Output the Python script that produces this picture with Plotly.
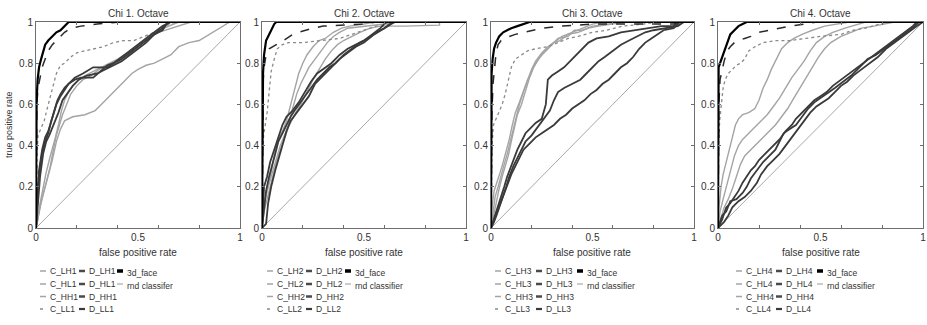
import plotly.graph_objects as go

# ---------------- data: ROC curves (fpr, tpr) ----------------
PANEL_TITLES = ["Chi 1. Octave", "Chi 2. Octave", "Chi 3. Octave", "Chi 4. Octave"]
Y_TICKS = [0, 0.2, 0.4, 0.6, 0.8, 1]
Y_TICK_TEXT = ["0", "0.2", "0.4", "0.6", "0.8", "1"]
X_TICKS = [0, 0.5, 1]
X_TICK_TEXT = ["0", "0.5", "1"]
X_MINOR_TICKS = [0.2, 0.4, 0.6, 0.8]
RND_LABELS = ["rnd classifer", "rnd classifier", "rnd classifier", "rnd classifier"]

RND = [(0, 0), (1, 1)]

# ---- panel 1
FACE_1 = [(0,0),(0.003,0.62),(0.008,0.72),(0.015,0.78),(0.025,0.82),(0.035,0.86),(0.045,0.89),(0.06,0.91),(0.08,0.93),(0.1,0.95),(0.12,0.96),(0.14,0.98),(0.16,1),(1,1)]
D_LL1 = [(0,0),(0.004,0.6),(0.01,0.68),(0.02,0.74),(0.03,0.78),(0.045,0.82),(0.06,0.86),(0.08,0.89),(0.1,0.91),(0.12,0.93),(0.14,0.95),(0.17,0.97),(0.22,0.98),(0.3,0.99),(0.42,1),(1,1)]
C_LL1 = [(0,0),(0.005,0.36),(0.01,0.45),(0.025,0.49),(0.04,0.52),(0.055,0.58),(0.07,0.64),(0.085,0.7),(0.1,0.75),(0.12,0.79),(0.14,0.8),(0.17,0.83),(0.2,0.85),(0.24,0.86),(0.28,0.87),(0.33,0.88),(0.38,0.9),(0.43,0.91),(0.48,0.91),(0.53,0.93),(0.58,0.95),(0.63,0.98),(0.68,1),(1,1)]
D_LH1 = [(0,0),(0.005,0.1),(0.01,0.2),(0.02,0.3),(0.03,0.36),(0.045,0.42),(0.06,0.46),(0.075,0.52),(0.09,0.57),(0.105,0.62),(0.12,0.65),(0.14,0.68),(0.16,0.7),(0.19,0.72),(0.22,0.73),(0.28,0.73),(0.35,0.79),(0.38,0.8),(0.42,0.82),(0.46,0.85),(0.5,0.88),(0.54,0.91),(0.58,0.94),(0.62,0.97),(0.65,1),(1,1)]
D_HL1 = [(0,0),(0.008,0.15),(0.015,0.28),(0.03,0.38),(0.045,0.44),(0.06,0.47),(0.08,0.53),(0.1,0.6),(0.12,0.64),(0.14,0.67),(0.16,0.7),(0.19,0.73),(0.23,0.75),(0.28,0.78),(0.35,0.78),(0.38,0.8),(0.42,0.83),(0.46,0.86),(0.5,0.89),(0.54,0.92),(0.58,0.95),(0.62,0.98),(0.66,1),(1,1)]
D_HH1 = [(0,0),(0.01,0.12),(0.02,0.25),(0.035,0.36),(0.05,0.42),(0.065,0.45),(0.085,0.5),(0.11,0.56),(0.13,0.62),(0.15,0.65),(0.18,0.69),(0.21,0.72),(0.25,0.74),(0.3,0.75),(0.34,0.77),(0.38,0.79),(0.42,0.81),(0.46,0.84),(0.5,0.87),(0.54,0.9),(0.58,0.94),(0.62,0.96),(0.64,0.99),(0.66,1),(1,1)]
C_LH1 = [(0,0),(0.01,0.05),(0.02,0.12),(0.035,0.2),(0.05,0.27),(0.065,0.33),(0.08,0.38),(0.095,0.44),(0.11,0.5),(0.125,0.57),(0.14,0.62),(0.16,0.66),(0.18,0.69),(0.21,0.72),(0.24,0.74),(0.28,0.76),(0.32,0.78),(0.36,0.8),(0.4,0.82),(0.45,0.85),(0.5,0.89),(0.55,0.93),(0.6,0.96),(0.65,0.98),(0.7,1),(1,1)]
C_HL1 = [(0,0),(0.015,0.08),(0.03,0.15),(0.05,0.22),(0.07,0.3),(0.085,0.38),(0.1,0.45),(0.115,0.5),(0.13,0.55),(0.15,0.6),(0.17,0.65),(0.2,0.69),(0.23,0.72),(0.27,0.74),(0.31,0.77),(0.35,0.79),(0.4,0.81),(0.45,0.84),(0.5,0.88),(0.55,0.92),(0.6,0.95),(0.66,0.97),(0.72,0.99),(0.76,1),(1,1)]
C_HH1 = [(0,0),(0.02,0.1),(0.04,0.18),(0.06,0.25),(0.08,0.33),(0.1,0.42),(0.12,0.48),(0.14,0.52),(0.18,0.54),(0.24,0.55),(0.29,0.57),(0.32,0.6),(0.35,0.63),(0.38,0.66),(0.41,0.69),(0.44,0.72),(0.47,0.75),(0.5,0.77),(0.54,0.79),(0.58,0.8),(0.62,0.82),(0.66,0.84),(0.7,0.88),(0.75,0.9),(0.8,0.91),(0.85,0.94),(0.9,0.97),(0.95,1),(1,1)]

# ---- panel 2
FACE_2 = [(0,0),(0.002,0.6),(0.005,0.75),(0.01,0.84),(0.015,0.88),(0.02,0.91),(0.03,0.93),(0.04,0.95),(0.05,0.97),(0.06,0.99),(0.07,1),(1,1)]
D_LL2 = [(0,0),(0.003,0.6),(0.006,0.72),(0.01,0.78),(0.02,0.84),(0.035,0.87),(0.05,0.88),(0.07,0.89),(0.09,0.9),(0.12,0.92),(0.15,0.94),(0.18,0.95),(0.21,0.96),(0.25,0.97),(0.3,0.98),(0.38,0.985),(0.5,0.99),(0.56,1),(1,1)]
C_LL2 = [(0,0),(0.003,0.35),(0.008,0.45),(0.015,0.5),(0.025,0.56),(0.035,0.66),(0.045,0.76),(0.06,0.82),(0.075,0.87),(0.1,0.89),(0.13,0.9),(0.2,0.9),(0.3,0.91),(0.38,0.92),(0.44,0.94),(0.5,0.96),(0.56,0.98),(0.62,0.99),(0.66,1),(1,1)]
D_LH2 = [(0,0),(0.01,0.08),(0.02,0.18),(0.035,0.25),(0.05,0.3),(0.065,0.36),(0.08,0.42),(0.1,0.46),(0.12,0.5),(0.14,0.54),(0.16,0.57),(0.18,0.6),(0.21,0.64),(0.24,0.68),(0.27,0.72),(0.3,0.75),(0.33,0.78),(0.36,0.8),(0.4,0.84),(0.44,0.87),(0.48,0.9),(0.52,0.92),(0.56,0.95),(0.6,0.97),(0.64,1),(1,1)]
D_HL2 = [(0,0),(0.005,0.15),(0.01,0.2),(0.025,0.25),(0.04,0.32),(0.06,0.38),(0.08,0.44),(0.1,0.5),(0.12,0.54),(0.15,0.57),(0.18,0.61),(0.21,0.66),(0.24,0.71),(0.27,0.75),(0.3,0.77),(0.34,0.8),(0.38,0.84),(0.42,0.87),(0.46,0.89),(0.5,0.91),(0.54,0.94),(0.58,0.97),(0.61,1),(1,1)]
D_HH2 = [(0,0),(0.02,0.02),(0.03,0.12),(0.045,0.2),(0.065,0.28),(0.085,0.35),(0.1,0.4),(0.12,0.47),(0.14,0.52),(0.17,0.56),(0.2,0.6),(0.23,0.64),(0.26,0.7),(0.3,0.74),(0.34,0.78),(0.38,0.82),(0.42,0.85),(0.46,0.88),(0.5,0.9),(0.55,0.94),(0.6,0.97),(0.65,1),(1,1)]
C_LH2 = [(0,0),(0.01,0.1),(0.02,0.16),(0.035,0.22),(0.05,0.3),(0.065,0.38),(0.08,0.43),(0.1,0.47),(0.12,0.52),(0.14,0.6),(0.16,0.68),(0.18,0.75),(0.2,0.8),(0.22,0.84),(0.25,0.88),(0.28,0.91),(0.31,0.92),(0.35,0.95),(0.39,0.97),(0.43,0.98),(0.5,0.99),(0.55,1),(1,1)]
C_HL2 = [(0,0),(0.01,0.12),(0.03,0.2),(0.05,0.27),(0.07,0.34),(0.09,0.4),(0.11,0.45),(0.13,0.5),(0.15,0.58),(0.17,0.65),(0.19,0.7),(0.21,0.74),(0.23,0.78),(0.26,0.82),(0.29,0.86),(0.32,0.9),(0.35,0.93),(0.38,0.95),(0.42,0.97),(0.5,0.98),(0.6,0.99),(0.63,1),(1,1)]
C_HH2 = [(0,0),(0.01,0.08),(0.03,0.16),(0.05,0.24),(0.07,0.32),(0.09,0.38),(0.11,0.44),(0.13,0.49),(0.16,0.55),(0.19,0.6),(0.22,0.66),(0.25,0.72),(0.28,0.77),(0.31,0.82),(0.34,0.86),(0.37,0.89),(0.4,0.91),(0.44,0.93),(0.48,0.95),(0.53,0.97),(0.58,0.98),(0.7,0.98),(0.87,0.985),(0.87,1),(1,1)]

# ---- panel 3
FACE_3 = [(0,0),(0.003,0.75),(0.008,0.82),(0.015,0.87),(0.025,0.9),(0.04,0.93),(0.06,0.95),(0.08,0.96),(0.1,0.97),(0.13,0.98),(0.16,0.99),(0.19,1),(1,1)]
D_LL3 = [(0,0),(0.004,0.55),(0.01,0.7),(0.018,0.8),(0.025,0.85),(0.035,0.89),(0.05,0.91),(0.07,0.92),(0.09,0.93),(0.12,0.94),(0.16,0.95),(0.2,0.96),(0.25,0.97),(0.35,0.98),(0.5,0.99),(0.9,0.99),(0.92,1),(1,1)]
C_LL3 = [(0,0),(0.005,0.4),(0.012,0.5),(0.025,0.53),(0.04,0.56),(0.055,0.6),(0.07,0.65),(0.085,0.72),(0.1,0.78),(0.12,0.82),(0.15,0.84),(0.18,0.86),(0.22,0.87),(0.28,0.88),(0.33,0.9),(0.38,0.92),(0.43,0.93),(0.5,0.95),(0.57,0.96),(0.65,0.98),(0.75,0.99),(0.82,1),(1,1)]
C_LH3 = [(0,0),(0.01,0.08),(0.02,0.15),(0.035,0.2),(0.05,0.26),(0.065,0.31),(0.08,0.36),(0.095,0.42),(0.11,0.48),(0.125,0.55),(0.14,0.6),(0.16,0.66),(0.18,0.72),(0.2,0.77),(0.22,0.81),(0.25,0.85),(0.28,0.88),(0.31,0.9),(0.35,0.93),(0.4,0.95),(0.45,0.97),(0.5,0.99),(0.55,1),(1,1)]
C_HL3 = [(0,0),(0.01,0.05),(0.025,0.12),(0.04,0.19),(0.055,0.25),(0.07,0.3),(0.085,0.35),(0.1,0.42),(0.115,0.49),(0.13,0.55),(0.15,0.6),(0.17,0.67),(0.19,0.73),(0.21,0.78),(0.24,0.83),(0.27,0.86),(0.3,0.89),(0.33,0.92),(0.38,0.93),(0.41,0.96),(0.45,0.96),(0.5,0.98),(0.58,0.99),(0.62,1),(1,1)]
C_HH3 = [(0,0),(0.005,0.1),(0.015,0.18),(0.03,0.22),(0.045,0.27),(0.06,0.32),(0.075,0.37),(0.09,0.43),(0.105,0.5),(0.12,0.56),(0.14,0.61),(0.16,0.67),(0.18,0.72),(0.2,0.76),(0.22,0.8),(0.25,0.84),(0.28,0.87),(0.31,0.9),(0.34,0.91),(0.38,0.94),(0.43,0.95),(0.48,0.97),(0.53,0.98),(0.6,0.99),(0.66,1),(1,1)]
D_LH3 = [(0,0),(0.01,0.03),(0.02,0.06),(0.035,0.1),(0.05,0.15),(0.065,0.2),(0.08,0.25),(0.095,0.29),(0.11,0.33),(0.13,0.38),(0.15,0.42),(0.17,0.46),(0.19,0.48),(0.22,0.51),(0.25,0.53),(0.27,0.6),(0.28,0.72),(0.3,0.74),(0.33,0.76),(0.36,0.78),(0.39,0.81),(0.42,0.84),(0.45,0.87),(0.48,0.9),(0.52,0.92),(0.58,0.93),(0.64,0.95),(0.7,0.96),(0.76,0.97),(0.84,0.98),(0.9,0.98),(0.92,1),(1,1)]
D_HL3 = [(0,0),(0.015,0.03),(0.03,0.07),(0.045,0.11),(0.06,0.15),(0.075,0.2),(0.09,0.25),(0.11,0.3),(0.13,0.34),(0.15,0.38),(0.17,0.42),(0.2,0.45),(0.23,0.49),(0.26,0.53),(0.29,0.57),(0.31,0.62),(0.33,0.66),(0.36,0.68),(0.4,0.7),(0.44,0.72),(0.47,0.75),(0.5,0.78),(0.53,0.81),(0.56,0.83),(0.6,0.86),(0.64,0.89),(0.68,0.91),(0.72,0.93),(0.76,0.95),(0.8,0.96),(0.86,0.97),(0.92,0.98),(0.95,1),(1,1)]
D_HH3 = [(0,0),(0.015,0.04),(0.03,0.08),(0.045,0.12),(0.06,0.16),(0.08,0.21),(0.1,0.26),(0.12,0.3),(0.14,0.34),(0.16,0.38),(0.19,0.41),(0.22,0.44),(0.25,0.46),(0.28,0.48),(0.31,0.5),(0.34,0.53),(0.37,0.55),(0.4,0.58),(0.43,0.6),(0.46,0.62),(0.49,0.65),(0.52,0.67),(0.55,0.7),(0.58,0.72),(0.61,0.75),(0.64,0.78),(0.67,0.8),(0.7,0.83),(0.73,0.87),(0.76,0.9),(0.79,0.92),(0.82,0.94),(0.85,0.96),(0.9,0.97),(0.93,1),(1,1)]

# ---- panel 4
FACE_4 = [(0,0),(0.003,0.78),(0.01,0.8),(0.02,0.83),(0.03,0.86),(0.04,0.89),(0.05,0.92),(0.06,0.94),(0.08,0.96),(0.1,0.98),(0.12,0.99),(0.14,1),(1,1)]
D_LL4 = [(0,0),(0.004,0.6),(0.01,0.72),(0.02,0.77),(0.03,0.81),(0.045,0.86),(0.06,0.88),(0.08,0.9),(0.1,0.91),(0.13,0.92),(0.16,0.93),(0.2,0.95),(0.25,0.96),(0.3,0.97),(0.35,0.98),(0.42,0.99),(0.48,1),(1,1)]
C_LL4 = [(0,0),(0.003,0.4),(0.008,0.52),(0.015,0.6),(0.025,0.68),(0.035,0.72),(0.05,0.75),(0.07,0.77),(0.09,0.79),(0.11,0.8),(0.13,0.82),(0.15,0.86),(0.18,0.88),(0.22,0.9),(0.28,0.91),(0.35,0.91),(0.42,0.92),(0.5,0.93),(0.6,0.94),(0.66,0.96),(0.72,0.97),(0.78,0.99),(0.82,1),(1,1)]
C_LH4 = [(0,0),(0.005,0.1),(0.015,0.2),(0.025,0.26),(0.04,0.32),(0.055,0.38),(0.07,0.45),(0.085,0.5),(0.1,0.53),(0.12,0.55),(0.15,0.56),(0.18,0.58),(0.2,0.62),(0.22,0.68),(0.24,0.72),(0.26,0.77),(0.28,0.81),(0.31,0.87),(0.34,0.9),(0.37,0.92),(0.41,0.94),(0.46,0.96),(0.52,0.98),(0.58,0.99),(0.64,1),(1,1)]
C_HL4 = [(0,0),(0.01,0.08),(0.025,0.14),(0.04,0.2),(0.06,0.27),(0.08,0.35),(0.1,0.4),(0.12,0.43),(0.15,0.46),(0.18,0.49),(0.21,0.52),(0.24,0.55),(0.27,0.59),(0.3,0.63),(0.33,0.68),(0.36,0.73),(0.39,0.77),(0.42,0.81),(0.45,0.86),(0.48,0.9),(0.52,0.93),(0.56,0.95),(0.62,0.97),(0.68,0.99),(0.72,1),(1,1)]
C_HH4 = [(0,0),(0.015,0.05),(0.03,0.1),(0.05,0.14),(0.07,0.19),(0.09,0.25),(0.11,0.31),(0.13,0.35),(0.16,0.38),(0.19,0.41),(0.22,0.44),(0.25,0.47),(0.28,0.5),(0.31,0.54),(0.34,0.58),(0.37,0.63),(0.4,0.68),(0.43,0.73),(0.46,0.78),(0.49,0.83),(0.52,0.87),(0.55,0.9),(0.6,0.93),(0.65,0.95),(0.7,0.97),(0.76,0.98),(0.82,0.99),(0.86,1),(1,1)]
D_LH4 = [(0,0),(0.02,0.04),(0.04,0.1),(0.06,0.12),(0.08,0.15),(0.1,0.18),(0.12,0.22),(0.14,0.25),(0.16,0.28),(0.18,0.3),(0.2,0.33),(0.22,0.35),(0.24,0.37),(0.27,0.4),(0.3,0.43),(0.33,0.47),(0.36,0.5),(0.38,0.53),(0.41,0.56),(0.44,0.59),(0.47,0.62),(0.5,0.64),(0.53,0.66),(0.56,0.69),(0.6,0.72),(0.64,0.75),(0.68,0.78),(0.72,0.81),(0.76,0.84),(0.8,0.87),(0.84,0.9),(0.88,0.93),(0.92,0.96),(0.95,0.98),(0.97,1),(1,1)]
D_HL4 = [(0,0),(0.02,0.06),(0.04,0.08),(0.06,0.13),(0.09,0.14),(0.12,0.17),(0.14,0.2),(0.16,0.24),(0.19,0.28),(0.22,0.32),(0.25,0.35),(0.28,0.38),(0.3,0.42),(0.32,0.46),(0.35,0.48),(0.38,0.5),(0.41,0.54),(0.44,0.58),(0.47,0.61),(0.5,0.63),(0.53,0.65),(0.57,0.68),(0.61,0.71),(0.65,0.74),(0.69,0.78),(0.73,0.82),(0.77,0.84),(0.81,0.87),(0.85,0.9),(0.89,0.93),(0.93,0.96),(0.96,0.98),(0.98,1),(1,1)]
D_HH4 = [(0,0),(0.03,0.03),(0.05,0.06),(0.07,0.1),(0.1,0.13),(0.13,0.15),(0.16,0.18),(0.19,0.22),(0.21,0.26),(0.24,0.3),(0.27,0.33),(0.3,0.36),(0.33,0.4),(0.36,0.44),(0.39,0.48),(0.42,0.52),(0.45,0.56),(0.48,0.59),(0.51,0.61),(0.54,0.63),(0.57,0.66),(0.6,0.69),(0.63,0.71),(0.66,0.74),(0.7,0.77),(0.74,0.8),(0.78,0.83),(0.82,0.87),(0.86,0.9),(0.9,0.93),(0.94,0.96),(0.97,0.98),(1,1)]

PANELS = [
    [C_LH1, C_HL1, C_HH1, C_LL1, D_LH1, D_HL1, D_HH1, D_LL1, FACE_1],
    [C_LH2, C_HL2, C_HH2, C_LL2, D_LH2, D_HL2, D_HH2, D_LL2, FACE_2],
    [C_LH3, C_HL3, C_HH3, C_LL3, D_LH3, D_HL3, D_HH3, D_LL3, FACE_3],
    [C_LH4, C_HL4, C_HH4, C_LL4, D_LH4, D_HL4, D_HH4, D_LL4, FACE_4],
]
SERIES_KEYS = ["C_LH", "C_HL", "C_HH", "C_LL", "D_LH", "D_HL", "D_HH", "D_LL", "3d_face"]

# ---------------- styling / layout constants ----------------
W, H = 927, 325
L_PX, R_PX, TOP_PX, BOT_PX = 36, 923, 22, 228
PANEL_PX = [(36, 240), (262, 466), (491, 694), (718, 923)]
LEG_COL_PX = [(40, 79, 117), (267, 306, 345), (495, 536, 577), (736, 776, 817)]
LEG_ROW_PX = [271, 284, 296.5, 309]
FONT = "Liberation Sans, Arial, sans-serif"
TXT = "#333333"

C_COL, D_COL = "#a4a4a4", "#3a3a3a"
STYLE = {
    "C_LH": dict(color=C_COL, width=1.4, dash="solid"),
    "C_HL": dict(color=C_COL, width=1.4, dash="solid"),
    "C_HH": dict(color=C_COL, width=1.4, dash="solid"),
    "C_LL": dict(color="#8a8a8a", width=1.3, dash="dot"),
    "D_LH": dict(color=D_COL, width=1.8, dash="solid"),
    "D_HL": dict(color=D_COL, width=1.8, dash="solid"),
    "D_HH": dict(color=D_COL, width=1.8, dash="solid"),
    "D_LL": dict(color="#2a2a2a", width=1.5, dash="dash"),
    "3d_face": dict(color="#000000", width=2.2, dash="solid"),
    "rnd": dict(color="#a8a8a8", width=1, dash="solid"),
}
LEG_STYLE = {
    "C": dict(color=C_COL, width=1.5, dash="solid"),
    "C_LL": dict(color="#8a8a8a", width=1.5, dash="dot"),
    "D": dict(color="#4a4a4a", width=2.5, dash="solid"),
    "D_LL": dict(color="#3a3a3a", width=2.2, dash="dash"),
    "3d_face": dict(color="#000000", width=3.5, dash="solid"),
    "rnd": dict(color="#9a9a9a", width=1, dash="solid"),
}


def px_x(x):
    return (x - L_PX) / (R_PX - L_PX)


def px_y(y):
    return (BOT_PX - y) / (BOT_PX - TOP_PX)


fig = go.Figure()

for i, series in enumerate(PANELS):
    n = i + 1
    xa = "x" if i == 0 else f"x{n}"
    ya = "y" if i == 0 else f"y{n}"
    fig.add_trace(go.Scatter(x=[p[0] for p in RND], y=[p[1] for p in RND], mode="lines",
                             line=STYLE["rnd"], xaxis=xa, yaxis=ya, hoverinfo="skip",
                             name=RND_LABELS[i]))
    for key, pts in zip(SERIES_KEYS, series):
        name = key if key == "3d_face" else f"{key}{n}"
        fig.add_trace(go.Scatter(x=[p[0] for p in pts], y=[p[1] for p in pts], mode="lines",
                                 line=dict(**STYLE[key]), xaxis=xa, yaxis=ya, name=name))

    x0, x1 = PANEL_PX[i]
    axis_common = dict(range=[0, 1], showline=True, linecolor="#6e6e6e", linewidth=1,
                       mirror="allticks", showgrid=False, zeroline=False, automargin=False,
                       tickfont=dict(family=FONT, size=10, color=TXT), fixedrange=True)
    fig.layout["xaxis" if i == 0 else f"xaxis{n}"] = dict(
        domain=[px_x(x0), px_x(x1)], anchor=ya, tickmode="array", tickvals=X_TICKS,
        ticktext=X_TICK_TEXT, ticks="inside", ticklen=0, tickcolor="#6e6e6e",
        minor=dict(tickmode="array", tickvals=X_MINOR_TICKS, ticks="inside", ticklen=3,
                   tickcolor="#6e6e6e"),
        **axis_common)
    fig.layout["yaxis" if i == 0 else f"yaxis{n}"] = dict(
        domain=[0, 1], anchor=xa, tickmode="array", tickvals=Y_TICKS, ticktext=Y_TICK_TEXT,
        ticks="inside", ticklen=3, tickcolor="#6e6e6e", **axis_common)

    cx = (px_x(x0) + px_x(x1)) / 2
    fig.add_annotation(text=PANEL_TITLES[i], x=cx, y=px_y(13), xref="paper", yref="paper",
                       showarrow=False, xanchor="center", yanchor="middle",
                       font=dict(family=FONT, size=10, color=TXT))
    fig.add_annotation(text="false positive rate", x=cx, y=px_y(252), xref="paper",
                       yref="paper", showarrow=False, xanchor="center", yanchor="middle",
                       font=dict(family=FONT, size=10, color=TXT))

    # legend below each panel (column-major like the original)
    c1, c2, c3 = LEG_COL_PX[i]
    entries = [
        (c1, 0, f"C_LH{n}", "C"), (c1, 1, f"C_HL{n}", "C"), (c1, 2, f"C_HH{n}", "C"),
        (c1, 3, f"C_LL{n}", "C_LL"),
        (c2, 0, f"D_LH{n}", "D"), (c2, 1, f"D_HL{n}", "D"), (c2, 2, f"D_HH{n}", "D"),
        (c2, 3, f"D_LL{n}", "D_LL"),
        (c3, 0, "3d_face", "3d_face"), (c3, 1, RND_LABELS[i], "rnd"),
    ]
    for cx_px, row, label, sty in entries:
        ry = LEG_ROW_PX[row]
        ty = ry + (2 if cx_px == c3 else 0)
        fig.add_shape(type="line", xref="paper", yref="paper",
                      x0=px_x(cx_px), x1=px_x(cx_px + 6), y0=px_y(ry), y1=px_y(ry),
                      line=LEG_STYLE[sty])
        fig.add_annotation(text=label, x=px_x(cx_px + 7.5), y=px_y(ty), xref="paper",
                           yref="paper", showarrow=False, xanchor="left", yanchor="middle",
                           font=dict(family=FONT, size=8.5, color=TXT))

fig.add_annotation(text="true positive rate", x=px_x(9), y=px_y(125), xref="paper",
                   yref="paper", showarrow=False, textangle=-90, xanchor="center",
                   yanchor="middle", font=dict(family=FONT, size=9, color=TXT))

fig.update_layout(width=W, height=H, autosize=False, showlegend=False,
                  margin=dict(l=L_PX, r=W - R_PX, t=TOP_PX, b=H - BOT_PX),
                  plot_bgcolor="white", paper_bgcolor="white")

fig.write_html("out.html", config={"displayModeBar": False},
               post_script="document.body.style.margin='0';document.body.style.overflow='hidden';")
